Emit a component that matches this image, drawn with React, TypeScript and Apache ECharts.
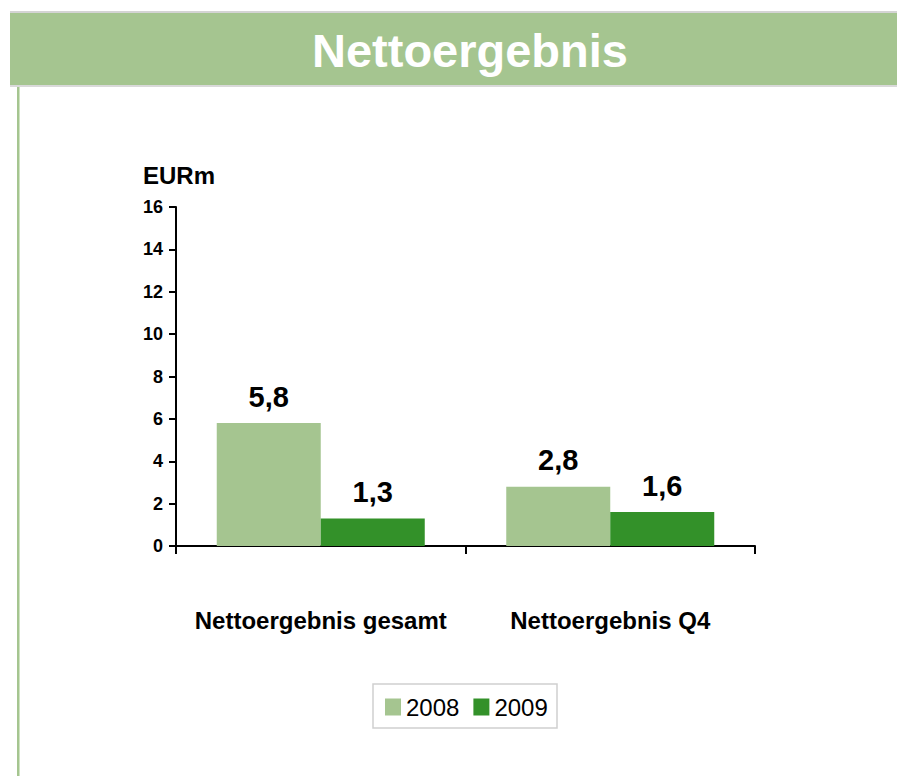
import React, { useEffect, useRef } from "react";
import * as echarts from "echarts";

const categories = ["Nettoergebnis gesamt", "Nettoergebnis Q4"];
const series2008 = [5.8, 2.8];
const series2009 = [1.3, 1.6];
const seriesNames = ["2008", "2009"];
const yTicks = { min: 0, max: 16, interval: 2 };

const fmt = (v: number) => v.toFixed(1).replace(".", ",");

export default function App() {
  const ref = useRef<HTMLDivElement>(null);
  useEffect(() => {
    const chart = echarts.init(ref.current!, null, { renderer: "svg" });
    const font = "Liberation Sans, Arial, sans-serif";
    const label = {
      show: true,
      position: "top",
      distance: 12,
      formatter: (p: any) => fmt(p.value),
      fontWeight: "bold",
      fontSize: 29,
      color: "#000",
      fontFamily: font,
    };
    chart.setOption({
      animation: false,
      textStyle: { fontFamily: font },
      graphic: [
        { type: "rect", shape: { x: 10, y: 11, width: 887, height: 2 }, style: { fill: "#d4d4d4" } },
        { type: "rect", shape: { x: 10, y: 13, width: 887, height: 72 }, style: { fill: "#a5c590" } },
        { type: "rect", shape: { x: 10, y: 85, width: 887, height: 2 }, style: { fill: "#d9d9d9" } },
        { type: "rect", shape: { x: 17, y: 87, width: 2, height: 700 }, style: { fill: "#a5c590" } },
        { type: "rect", shape: { x: 19, y: 87, width: 1, height: 700 }, style: { fill: "#cfe3c2" } },
        {
          type: "text",
          x: 470,
          y: 50,
          style: {
            text: "Nettoergebnis",
            fill: "#ffffff",
            font: `bold 47px ${font}`,
            align: "center",
            verticalAlign: "middle",
          },
        },
        {
          type: "text",
          x: 143,
          y: 175,
          style: {
            text: "EURm",
            fill: "#000",
            font: `bold 24px ${font}`,
            align: "left",
            verticalAlign: "middle",
          },
        },
        {
          type: "rect",
          shape: { x: 373, y: 684, width: 184, height: 44 },
          style: { fill: "none", stroke: "#d0d0d0", lineWidth: 1.5 },
        },
      ],
      legend: {
        top: 690,
        left: 380,
        itemWidth: 16,
        itemHeight: 17,
        itemGap: 14,
        icon: "rect",
        textStyle: { fontSize: 24, color: "#000", fontFamily: font },
        data: seriesNames,
      },
      grid: { left: 176, right: 142, top: 207, bottom: 230 },
      xAxis: {
        type: "category",
        data: categories,
        axisLine: { lineStyle: { color: "#000", width: 2 } },
        axisTick: { show: true, length: 8, interval: 0, lineStyle: { color: "#000", width: 2 } },
        axisLabel: {
          color: "#000",
          fontWeight: "bold",
          fontSize: 24,
          margin: 62,
          interval: 0,
          hideOverlap: false,
          fontFamily: font,
        },
      },
      yAxis: {
        type: "value",
        min: yTicks.min,
        max: yTicks.max,
        interval: yTicks.interval,
        splitLine: { show: false },
        axisLine: { show: true, lineStyle: { color: "#000", width: 2 } },
        axisTick: { show: true, length: 7, lineStyle: { color: "#000", width: 2 } },
        axisLabel: { color: "#000", fontWeight: "bold", fontSize: 18, margin: 13, fontFamily: font },
      },
      series: [
        {
          name: seriesNames[0],
          type: "bar",
          data: series2008,
          barWidth: 104,
          barGap: "0%",
          itemStyle: { color: "#a5c590" },
          label,
        },
        {
          name: seriesNames[1],
          type: "bar",
          data: series2009,
          barWidth: 104,
          barGap: "0%",
          itemStyle: { color: "#339129" },
          label,
        },
      ],
    });
    return () => chart.dispose();
  }, []);
  return <div ref={ref} style={{ width: 897, height: 776, position: "absolute", left: 0, top: 0 }} />;
}
